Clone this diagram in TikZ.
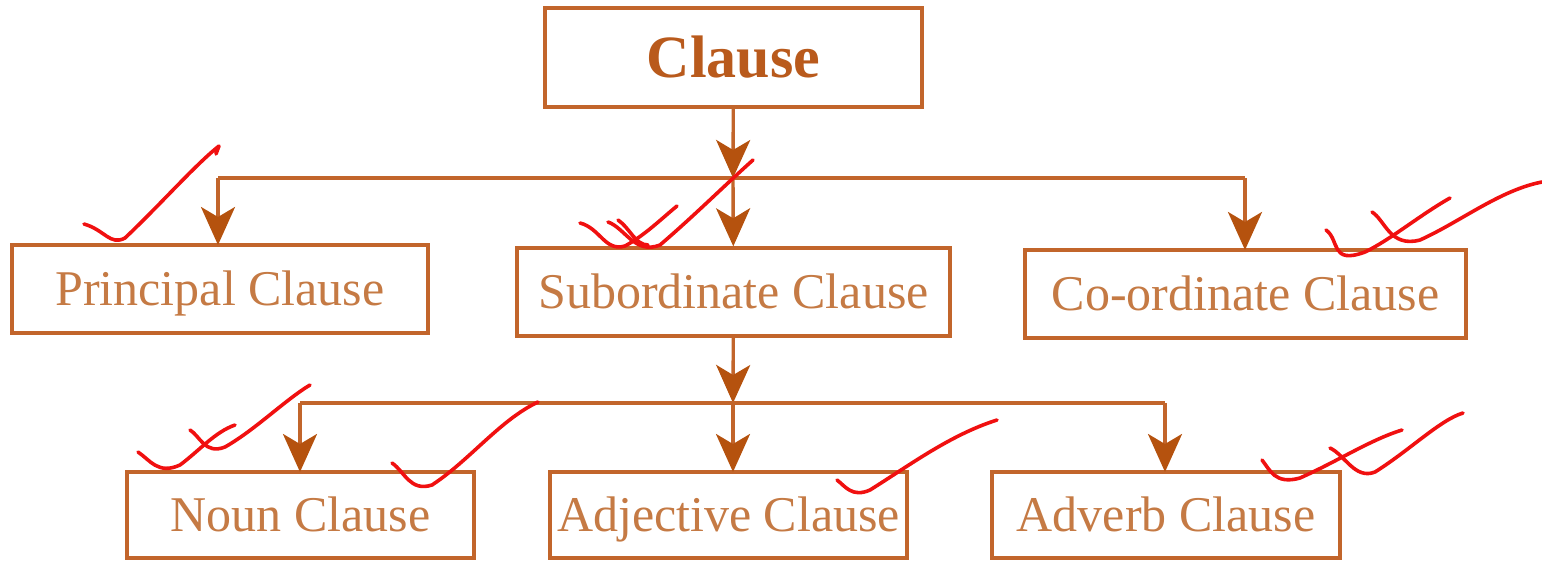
\documentclass[tikz,border=0pt]{standalone}
\usepackage{fontspec}
\setmainfont{Liberation Serif}
\usetikzlibrary{arrows.meta}
\definecolor{linec}{HTML}{C2652B}
\definecolor{tipc}{HTML}{B5520E}
\definecolor{textc}{HTML}{C57A44}
\definecolor{headc}{HTML}{B95A1C}
\definecolor{tick}{HTML}{F01010}
\tikzset{
  box/.style={draw=linec,line width=1.7pt,fill=white,text=textc,
    font=\fontsize{25}{30}\selectfont,inner sep=0pt,
    text height=19pt,text depth=3pt},
  link/.style={draw=linec,line width=1.7pt},
  arr/.style={link,-{Stealth[length=19pt,width=17pt,inset=5pt,fill=tipc,color=tipc]}},
  tickline/.style={draw=tick,line width=1.8pt,line cap=round,line join=round}
}
\begin{document}
\begin{tikzpicture}[x=0.5pt,y=-0.5pt]
        \useasboundingbox (0,0) rectangle (1542,562);

        \node[box,minimum width=188.5pt,minimum height=49.5pt,text=headc,
              text height=23pt,text depth=3pt,
              font=\fontsize{30}{36}\selectfont\bfseries] (clause) at (733.5,57.5) {Clause};
        \node[box,minimum width=208pt,minimum height=44pt] (princ) at (220,289) {Principal Clause};
        \node[box,minimum width=216.5pt,minimum height=44pt] (subord) at (733.5,292) {Subordinate Clause};
        \node[box,minimum width=220.5pt,minimum height=44pt] (coord) at (1245.5,294) {Co-ordinate Clause};
        \node[box,minimum width=173.5pt,minimum height=43pt] (noun) at (300.5,515) {Noun Clause};
        \node[box,minimum width=178.5pt,minimum height=43pt] (adj) at (728.5,515) {Adjective Clause};
        \node[box,minimum width=174pt,minimum height=43pt] (adv) at (1166,515) {Adverb Clause};

        \coordinate (bus1) at (733,178);
        \coordinate (bus2) at (733,403);

        \draw[arr] (clause) -- (bus1);
        \draw[link] (218,178) -- (1245,178);
        \draw[arr] (218,178) -- (218,245);
        \draw[arr] (bus1) -- (subord);
        \draw[arr] (1245,178) -- (1245,250);

        \draw[arr] (subord) -- (bus2);
        \draw[link] (300,403) -- (1165,403);
        \draw[arr] (300,403) -- (300,472);
        \draw[arr] (bus2) -- (733,472);
        \draw[arr] (1165,403) -- (1165,472);

        % ticks
        \draw[tickline] (84,224) .. controls (105,230) and (110,246) .. (125,238)
                    .. controls (160,205) and (195,165) .. (219,146) -- (216,154);
        \draw[tickline] (580,223) .. controls (600,228) and (605,252) .. (625,246)
                    .. controls (645,235) and (660,220) .. (677,206);
        \draw[tickline] (608,222) .. controls (625,228) and (635,255) .. (660,245)
                    .. controls (695,215) and (725,185) .. (753,160);
        \draw[tickline] (618,220) .. controls (630,228) and (635,245) .. (648,245);
        \draw[tickline] (1326,230) .. controls (1340,240) and (1330,265) .. (1365,252)
                    .. controls (1390,240) and (1420,215) .. (1450,198);
        \draw[tickline] (1372,212) .. controls (1385,220) and (1390,248) .. (1420,240)
                    .. controls (1460,222) and (1500,190) .. (1542,182);
        \draw[tickline] (138,452) .. controls (150,460) and (158,475) .. (180,465)
                    .. controls (200,450) and (215,432) .. (235,425);
        \draw[tickline] (190,430) .. controls (200,436) and (205,455) .. (225,447)
                    .. controls (255,430) and (285,400) .. (310,385);
        \draw[tickline] (392,463) .. controls (405,472) and (410,492) .. (432,485)
                    .. controls (470,460) and (500,420) .. (538,402);
        \draw[tickline] (837,480) .. controls (845,486) and (852,498) .. (870,490)
                    .. controls (910,465) and (950,435) .. (997,420);
        \draw[tickline] (1262,460) .. controls (1270,470) and (1275,485) .. (1300,478)
                    .. controls (1340,460) and (1370,440) .. (1402,430);
        \draw[tickline] (1330,448) .. controls (1345,455) and (1355,480) .. (1375,472)
                    .. controls (1410,450) and (1440,420) .. (1463,413);

    \end{tikzpicture}
\end{document}
